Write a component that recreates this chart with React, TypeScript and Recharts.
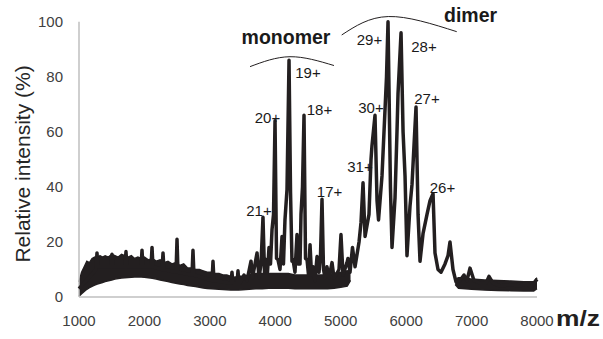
import React from 'react';
import { ComposedChart, Line, Area, XAxis, YAxis, ReferenceLine, ReferenceDot } from 'recharts';

// x-axis ticks (m/z) and y-axis ticks (relative intensity %)
const MZ_TICKS = [1000, 2000, 3000, 4000, 5000, 6000, 7000, 8000];
const INTENSITY_TICKS = [0, 20, 40, 60, 80, 100];

// noise band of the spectrum (lower / upper envelope); null = no visible band
const bandMz = [1000, 1040, 1080, 1120, 1160, 1200, 1240, 1280, 1320, 1360, 1400, 1450, 1500, 1550, 1600, 1650, 1700, 1750, 1800, 1850, 1900, 1950, 2000, 2060, 2120, 2180, 2240, 2300, 2360, 2420, 2480, 2540, 2600, 2660, 2720, 2780, 2840, 2900, 2960, 3020, 3080, 3140, 3200, 3260, 3320, 3380, 3440, 3500, 3600, 3700, 3800, 3900, 4000, 4100, 4200, 4300, 4400, 4500, 4600, 4700, 4800, 4900, 5000, 5100, 5150, 6700, 6750, 6800, 6900, 7000, 7200, 7400, 7600, 7800, 7950, 8000];
const bandLow = [0.3, 1.2, 2.0, 2.8, 3.4, 3.9, 4.3, 4.7, 5.0, 5.3, 5.6, 5.9, 6.2, 6.5, 6.7, 6.9, 7.0, 7.1, 7.2, 7.3, 7.3, 7.3, 7.2, 7.0, 6.8, 6.5, 6.2, 5.9, 5.6, 5.3, 5.0, 4.7, 4.5, 4.2, 4.0, 3.8, 3.5, 3.3, 3.1, 3.0, 2.9, 2.8, 2.7, 2.6, 2.5, 2.5, 2.5, 2.6, 2.8, 3, 3, 3.2, 3.2, 3.2, 3.2, 3, 3, 3, 3, 3, 3, 3.2, 3.5, 4, 6, null, 4.5, 3.2, 3, 2.8, 2.5, 2.4, 2.3, 2.2, 2.2, 3];
const bandHigh = [5.5, 9, 11, 13, 12.5, 14, 14.5, 14, 15, 14.5, 15, 14.5, 15.5, 15, 14.5, 15.5, 15, 14.5, 15, 14, 14.5, 14, 14.5, 13.5, 14, 13, 13.5, 12.5, 13, 12, 12.5, 11.5, 12, 10.5, 10.5, 10, 10, 9.5, 9, 9, 8.5, 8.5, 8, 8, 7.5, 7.2, 7.5, 7.5, 8, 8.5, 8.5, 8.5, 8.5, 8.5, 8.5, 8, 8, 8, 8, 8, 8, 8.5, 9, 9.5, 9, null, 6.5, 7, 7, 6.5, 6.2, 6, 5.8, 5.5, 5.5, 7];

// spectrum trace (m/z, relative intensity %)
const traceMz = [1000, 1260, 1275, 1290, 1490, 1504, 1518, 1703, 1718, 1733, 1948, 1963, 1978, 2101, 2116, 2131, 2269, 2284, 2299, 2483, 2498, 2513, 2727, 2742, 2757, 3033, 3048, 3063, 3323, 3338, 3353, 3415, 3430, 3445,
  3461, 3522, 3568, 3629, 3652, 3721, 3751, 3782, 3812, 3835, 3858, 3881, 3904, 3927, 3950, 3973, 3996, 4019, 4041, 4072, 4103, 4125, 4148, 4179, 4210, 4233, 4255, 4271, 4301, 4332, 4347, 4362, 4378, 4393, 4416, 4439, 4462, 4485, 4508, 4531, 4554, 4577, 4607, 4638, 4668, 4691, 4714, 4737, 4760, 4790, 4821, 4867, 4897, 4928, 4974, 5004, 5035, 5096, 5111, 5142, 5180, 5219, 5280, 5310, 5341, 5372, 5402, 5432, 5463, 5478, 5524, 5555, 5578, 5631, 5677, 5700, 5723, 5760, 5784, 5830, 5860, 5876, 5922, 5953, 5983, 6013, 6059, 6090, 6120, 6151, 6182, 6212, 6258, 6319, 6365, 6411, 6441, 6487, 6533, 6594, 6640, 6670, 6716, 6762, 6823, 6884, 6930, 6976, 7037, 7129, 7221, 7266, 7328, 7434, 7587, 7740, 7847, 7908, 8000];
const traceIntensity = [3, 10, 16, 11, 11, 15.5, 11, 11, 16.5, 11, 11, 17, 11, 11, 18, 11, 10, 16, 10, 9, 21, 9, 8, 17, 8, 6, 13, 6, 5, 9, 5, 5, 9.5, 5,
  5, 8, 6, 13, 7, 16, 7, 12, 29, 9, 13.6, 9, 18, 12, 24.5, 30, 64, 14, 13.6, 10, 22, 12, 28, 39, 86, 38, 13, 13.6, 9, 22.7, 12, 16, 12, 30, 40, 66, 14, 13.6, 8, 19, 8, 11, 6, 14.7, 9, 15, 35.5, 10, 7, 11, 7, 12.5, 7, 8, 10, 22.7, 8, 12.5, 14, 9, 18, 11, 20, 27, 41.5, 22, 26, 30, 50, 55, 66, 35, 28, 44, 68, 80, 100, 40, 18, 36, 60, 74, 96, 60, 44, 15, 33, 41, 55, 69, 30, 13, 23, 30, 35, 37.5, 16, 10, 9, 12, 15, 20, 10, 5.5, 6, 8, 6, 10.5, 6, 5, 5, 7.5, 5, 4, 4.5, 4, 5, 3.5, 6.5];

// annotation arcs (data coordinates)
const monomerArcMz = [3614, 4225, 4897];
const monomerArcY = [83.7, 87.3, 84.1];
const dimerArcMz = [5015, 5727, 6773];
const dimerArcY = [95.2, 101.9, 96.4];

// annotation texts and their anchor (data coordinates)
const chargeLabels = ['21+', '20+', '19+', '18+', '17+', '31+', '30+', '29+', '28+', '27+', '26+'];
const chargeLabelMz = [3751, 3881, 4500, 4676, 4829, 5295, 5463, 5440, 6273, 6319, 6556];
const chargeLabelY = [31.2, 65.3, 81.5, 68.2, 38.3, 47.2, 68.9, 93.6, 91.0, 72.0, 39.9];
const groupLabels = ['monomer', 'dimer'];
const groupLabelMz = [4164, 6984];
const groupLabelY = [94.5, 102.5];

// split the band into continuous segments at the null gaps
const bandSegments: { mz: number; range: number[] }[][] = [];
let current: { mz: number; range: number[] }[] = [];
bandMz.forEach((mz, i) => {
  const lo = bandLow[i];
  const hi = bandHigh[i];
  if (lo == null || hi == null) {
    if (current.length) bandSegments.push(current);
    current = [];
  } else {
    current.push({ mz, range: [lo, hi] });
  }
});
if (current.length) bandSegments.push(current);

const trace = traceMz.map((mz, i) => ({ mz, v: traceIntensity[i] }));
const monomerArc = monomerArcMz.map((mz, i) => ({ mz, a: monomerArcY[i] }));
const dimerArc = dimerArcMz.map((mz, i) => ({ mz, a: dimerArcY[i] }));

const INK = '#231f20';
const FONT = '"Liberation Sans", Arial, sans-serif';

export default function App() {
  return (
    <div style={{ position: 'absolute', left: 0, top: 0 }}>
      <ComposedChart width={603} height={339} margin={{ top: 8, right: 66, left: 0, bottom: 0 }}>
        <XAxis
          dataKey="mz"
          type="number"
          domain={[1000, 8000]}
          ticks={MZ_TICKS}
          tickLine={false}
          tickSize={0}
          tickMargin={18}
          height={42}
          axisLine={{ stroke: '#bfbfbf', strokeWidth: 1.5 }}
          tick={{ fill: '#404040', fontSize: 15, fontFamily: FONT }}
          label={{
            content: () => (
              <text x={578} y={326} textAnchor="middle" fontFamily={FONT} fontWeight="bold" fontSize={22} fill={INK} textLength={44} lengthAdjust="spacingAndGlyphs">m/z</text>
            ),
          }}
        />
        <YAxis
          type="number"
          domain={[0, 105]}
          ticks={INTENSITY_TICKS}
          width={79}
          axisLine={false}
          tickLine={false}
          tickSize={0}
          tickMargin={16}
          tick={{ fill: '#404040', fontSize: 15, fontFamily: FONT }}
          label={{
            content: () => (
              <text x={22.5} y={164} transform="rotate(-90 22.5 164)" textAnchor="middle" dominantBaseline="central" fontFamily={FONT} fontSize={21} fill="#262626">Relative intensity (%)</text>
            ),
          }}
        />
        <ReferenceLine segment={[{ x: 1000, y: 0 }, { x: 1000, y: 100 }]} stroke="#bfbfbf" strokeWidth={1.5} ifOverflow="visible" />
        {bandSegments.map((seg, k) => (
          <Area key={'band' + k} data={seg} dataKey="range" type="linear" stroke={INK} strokeWidth={1.5} fill={INK} fillOpacity={1} isAnimationActive={false} dot={false} activeDot={false} />
        ))}
        <Line data={trace} dataKey="v" type="linear" stroke={INK} strokeWidth={3.5} strokeLinejoin="round" dot={false} activeDot={false} isAnimationActive={false} />
        <Line data={monomerArc} dataKey="a" type="natural" stroke={INK} strokeWidth={1} dot={false} activeDot={false} isAnimationActive={false} />
        <Line data={dimerArc} dataKey="a" type="natural" stroke={INK} strokeWidth={1} dot={false} activeDot={false} isAnimationActive={false} />
        {chargeLabels.map((t, i) => (
          <ReferenceDot key={t} x={chargeLabelMz[i]} y={chargeLabelY[i]} r={1} fill="none" stroke="none" ifOverflow="visible"
            label={{ value: t, position: 'center', fill: '#1a1a1a', fontSize: 15, fontFamily: FONT }} />
        ))}
        {groupLabels.map((t, i) => (
          <ReferenceDot key={t} x={groupLabelMz[i]} y={groupLabelY[i]} r={1} fill="none" stroke="none" ifOverflow="visible"
            label={{ value: t, position: 'center', fill: '#1a1a1a', fontSize: 19.5, fontWeight: 'bold', fontFamily: FONT }} />
        ))}
      </ComposedChart>
    </div>
  );
}
